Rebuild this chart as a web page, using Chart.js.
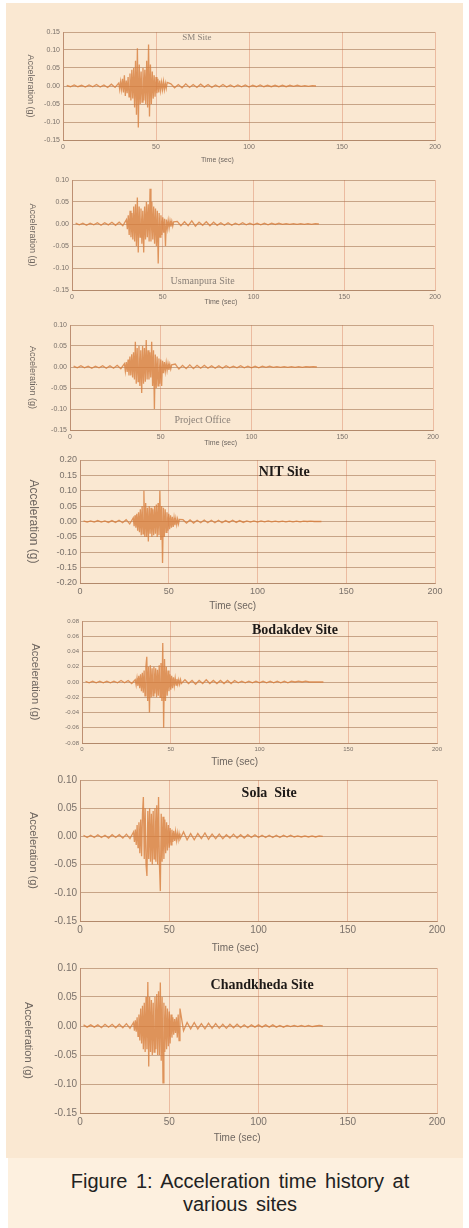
<!DOCTYPE html>
<html><head><meta charset="utf-8">
<script src="https://cdn.jsdelivr.net/npm/chart.js@4"></script>
<style>
html,body{margin:0;padding:0;background:#fff;}
body{width:469px;height:1228px;position:relative;overflow:hidden;}
#bg{position:absolute;left:6px;top:3px;width:457px;height:1155px;background:#FAE8D2;}
#capbg{position:absolute;left:8px;top:1158px;width:455px;height:70px;background:#FDF0DF;}
#cap{position:absolute;left:10px;width:460px;top:1170px;text-align:center;font-family:"Liberation Sans",Arial,sans-serif;font-size:20px;line-height:23px;color:#222;word-spacing:3px;}
canvas{position:absolute;left:0;}
</style></head><body>
<div id="bg"></div><div id="capbg"></div>
<div id="cap">Figure 1: Acceleration time history at<br>various sites</div>
<canvas id="c1"></canvas><canvas id="c2"></canvas><canvas id="c3"></canvas><canvas id="c4"></canvas>
<canvas id="c5"></canvas><canvas id="c6"></canvas><canvas id="c7"></canvas>
<script>
// ---------- DATA ----------
const times = [2,4,6,8,10,12,14,16,18,20,22,24,26,28,
30,30.5,31,31.5,32,32.5,33,33.5,34,34.5,35,35.5,36,36.5,37,37.5,38,38.5,39,39.5,
40,40.5,41,41.5,42,42.5,43,43.5,44,44.5,45,45.5,46,46.5,47,47.5,48,48.5,49,49.5,
50,50.5,51,51.5,52,52.5,53,53.5,54,54.5,55,55.5,56,
58,60,62,64,66,68,70,72,74,76,78,80,82,84,86,88,90,92,94,96,98,100,102,104,106,108,110,112,114,116,118,120,122,124,126,128,130,132,134,136];

const siteNames = ["SM Site","Usmanpura Site","Project Office","NIT Site","Bodakdev Site","Sola  Site","Chandkheda Site"];
const xTitle = "Time (sec)";
const yTitle = "Acceleration (g)";
const xTicks = [0,50,100,150,200];
const yTicksA = [0.15,0.10,0.05,0,-0.05,-0.10,-0.15];
const yTicksB = [0.10,0.05,0,-0.05,-0.10,-0.15];
const yTicksNIT = [0.20,0.15,0.10,0.05,0,-0.05,-0.10,-0.15,-0.20];
const yTicksBod = [0.08,0.06,0.04,0.02,0,-0.02,-0.04,-0.06,-0.08];

const smAcc = [0.002,-0.002,0.003,-0.002,0.002,-0.003,0.003,-0.002,0.004,-0.003,0.003,-0.004,0.005,-0.004,
0.008,-0.01,0.012,-0.009,0.02,-0.018,0.03,-0.028,0.015,-0.02,
0.025,-0.03,0.035,-0.04,0.045,-0.035,0.05,-0.06,0.07,-0.08,
0.105,-0.115,0.06,-0.05,0.04,-0.045,0.05,-0.04,0.045,-0.05,
0.07,-0.06,0.115,-0.085,0.06,-0.05,0.04,-0.035,0.03,-0.03,
0.025,-0.02,0.02,-0.018,0.015,-0.012,0.01,-0.01,0.012,-0.01,
0.008,-0.007,0.01,
0.006,-0.005,0.004,-0.005,0.006,-0.004,0.004,-0.004,0.005,-0.003,
0.004,-0.004,0.003,-0.003,0.004,-0.003,0.003,-0.003,0.003,-0.002,
0.003,-0.003,0.002,-0.002,0.003,-0.002,0.002,-0.002,0.002,-0.002,
0.002,-0.002,0.002,-0.001,0.002,-0.001,0.001,-0.001,0.001,0];

const usmanpuraAcc = [0.002,-0.002,0.002,-0.003,0.002,-0.002,0.003,-0.003,0.003,-0.002,0.004,-0.003,0.004,-0.004,
0.01,-0.012,0.02,-0.025,0.03,-0.03,0.025,-0.035,0.04,-0.04,
0.045,-0.05,0.06,-0.065,0.04,-0.03,0.035,-0.045,0.03,-0.065,
0.04,-0.035,0.05,-0.03,0.045,-0.04,0.08,-0.04,0.05,-0.035,
0.04,-0.045,0.035,-0.05,0.03,-0.09,0.025,-0.03,0.02,-0.025,
0.015,-0.02,0.012,-0.05,0.01,-0.01,0.008,-0.009,0.007,-0.006,
0.006,-0.005,0.005,
0.006,-0.004,0.005,-0.004,0.007,-0.005,0.004,-0.003,0.005,-0.004,
0.004,-0.003,0.003,-0.003,0.003,-0.003,0.002,-0.002,0.003,-0.002,
0.002,-0.002,0.002,-0.002,0.002,-0.002,0.002,-0.001,0.002,-0.001,
0.001,-0.001,0.001,-0.001,0.001,-0.001,0.001,-0.001,0.001,0];

const projectAcc = [0.002,-0.002,0.003,-0.002,0.002,-0.003,0.002,-0.002,0.003,-0.003,0.003,-0.003,0.004,-0.004,
0.008,-0.01,0.012,-0.012,0.018,-0.02,0.025,-0.02,0.03,-0.025,
0.035,-0.03,0.06,-0.04,0.045,-0.035,0.05,-0.045,0.04,-0.062,
0.05,-0.04,0.045,-0.035,0.064,-0.03,0.04,-0.03,0.035,-0.025,
0.06,-0.045,0.04,-0.10,0.03,-0.05,0.025,-0.045,0.02,-0.04,
0.018,-0.045,0.015,-0.015,0.012,-0.01,0.01,-0.008,0.008,-0.007,
0.006,-0.005,0.005,
0.007,-0.005,0.004,-0.004,0.005,-0.004,0.004,-0.003,0.004,-0.003,
0.003,-0.003,0.003,-0.003,0.003,-0.002,0.002,-0.002,0.003,-0.002,
0.002,-0.002,0.002,-0.002,0.002,-0.001,0.002,-0.001,0.001,-0.001,
0.001,-0.001,0.001,-0.001,0.001,-0.001,0.001,0,0.001,0];

const nitAcc = [0.002,-0.002,0.002,-0.002,0.003,-0.002,0.002,-0.003,0.003,-0.003,0.004,-0.004,0.006,-0.008,
0.012,-0.015,0.02,-0.02,0.025,-0.03,0.03,-0.035,0.04,-0.045,
0.05,-0.04,0.10,-0.05,0.06,-0.05,0.045,-0.065,0.05,-0.04,
0.045,-0.05,0.04,-0.045,0.05,-0.04,0.055,-0.05,0.06,-0.045,
0.10,-0.06,0.05,-0.135,0.045,-0.05,0.04,-0.035,0.03,-0.03,
0.025,-0.025,0.02,-0.02,0.015,-0.018,0.012,-0.012,0.01,-0.01,
0.008,-0.008,0.007,
0.006,-0.005,0.005,-0.005,0.004,-0.004,0.005,-0.004,0.004,-0.004,
0.004,-0.004,0.003,-0.003,0.004,-0.003,0.003,-0.003,0.002,-0.002,
0.002,-0.002,0.002,-0.001,0.002,-0.001,0.001,-0.001,0.001,-0.001,
0.001,-0.001,0.001,-0.001,0.001,0,0.001,0,0,0];

const bodakdevAcc = [0.001,-0.001,0.001,-0.001,0.001,-0.001,0.001,-0.001,0.001,-0.001,0.002,-0.001,0.002,-0.002,
0.003,-0.004,0.005,-0.005,0.008,-0.008,0.01,-0.012,0.012,-0.014,
0.015,-0.018,0.02,0.033,-0.025,0.02,-0.04,0.022,-0.02,0.018,
-0.018,0.02,-0.015,0.018,-0.02,0.016,-0.018,0.022,-0.02,0.025,
-0.025,0.051,-0.06,0.03,-0.025,0.02,-0.018,0.015,-0.012,0.01,
-0.01,0.008,-0.008,0.006,-0.005,0.005,-0.004,0.004,-0.003,0.003,
-0.003,0.003,-0.002,
0.003,-0.002,0.002,-0.003,0.002,-0.002,0.003,-0.002,0.002,-0.002,
0.002,-0.002,0.002,-0.002,0.002,-0.001,0.001,-0.001,0.001,-0.001,
0.001,-0.001,0.001,-0.001,0.001,-0.001,0.001,-0.001,0.001,-0.001,
0.001,0,0.001,0,0.001,0,0,0,0,0];

const solaAcc = [0.002,-0.002,0.002,-0.002,0.003,-0.002,0.002,-0.003,0.003,-0.002,0.003,-0.003,0.004,-0.004,
0.008,-0.01,0.012,-0.015,0.02,-0.02,0.025,-0.03,0.03,-0.035,
0.04,0.07,-0.04,0.05,-0.05,-0.07,0.045,-0.04,0.05,-0.045,
0.04,-0.05,0.045,-0.04,0.05,-0.045,0.055,-0.05,0.07,-0.05,
-0.097,0.04,-0.045,0.035,-0.04,0.03,-0.03,0.025,-0.025,0.02,
-0.02,0.015,-0.015,0.012,-0.01,0.01,-0.008,0.008,-0.007,0.006,
-0.006,0.005,-0.005,
0.008,-0.006,0.005,-0.006,0.005,-0.004,0.006,-0.005,0.004,-0.004,
0.004,-0.004,0.003,-0.003,0.004,-0.003,0.003,-0.003,0.003,-0.002,
0.003,-0.002,0.002,-0.002,0.002,-0.002,0.002,-0.002,0.002,-0.001,
0.002,-0.001,0.001,-0.001,0.001,-0.001,0.001,-0.001,0.001,0];

const chandkhedaAcc = [0.002,-0.002,0.002,-0.002,0.002,-0.003,0.003,-0.002,0.003,-0.003,0.003,-0.003,0.004,-0.004,
0.006,-0.008,0.01,-0.01,0.015,-0.018,0.02,-0.025,0.03,-0.03,
0.035,-0.04,0.04,-0.045,0.05,-0.04,0.076,-0.07,0.05,-0.045,
0.045,-0.05,0.04,-0.045,0.05,-0.04,0.055,-0.05,0.06,-0.05,
0.075,-0.06,0.05,-0.098,0.04,-0.045,0.035,-0.04,0.03,-0.035,
0.025,-0.03,0.02,-0.02,0.015,-0.015,0.012,-0.012,0.015,-0.02,
0.02,-0.025,0.03,
-0.008,0.006,-0.005,0.006,-0.005,0.004,-0.005,0.005,-0.004,0.004,
-0.004,0.003,-0.004,0.003,-0.003,0.003,-0.003,0.002,-0.003,0.002,
-0.002,0.002,-0.002,0.002,-0.002,0.002,-0.002,0.001,-0.002,0.001,
-0.001,0.001,-0.001,0.001,-0.001,0.001,-0.001,0,0.001,0];

// label anchor positions (data coordinates: time, acceleration)
const labelAt = [[72,0.133],[72,-0.13],[73,-0.128],[115,0.16],[120,0.068],[106,0.077],[102,0.07]];
const xTitleAt = [83,82,83,86,86,87,88];

// ---------- LAYOUT / STYLE ----------
const SANS = '"Liberation Sans", Arial, sans-serif';
const SERIF = '"Liberation Serif", "Times New Roman", serif';
const panels = [
 {id:'c1', acc:smAcc, yt:yTicksA, T:32, B:140, L:63, R:435, Hx:28, tick:7, ylab:9, ydx:33, xdy:20, xtf:7, lab:{size:9,weight:'normal',color:'#8a8078'}},
 {id:'c2', acc:usmanpuraAcc, yt:yTicksB, T:180, B:290, L:72, R:435, Hx:20, tick:7, ylab:9, ydx:40, xdy:12, xtf:7, lab:{size:10,weight:'normal',color:'#8a8078'}},
 {id:'c3', acc:projectAcc, yt:yTicksB, T:325, B:430, L:70, R:433, Hx:20, tick:7, ylab:9, ydx:38, xdy:13, xtf:7, lab:{size:10,weight:'normal',color:'#8a8078'}},
 {id:'c4', acc:nitAcc, yt:yTicksNIT, T:460, B:583, L:80, R:435, Hx:30, tick:9, ylab:12, ydx:47, xdy:23, xtf:10, lab:{size:14,weight:'bold',color:'#1e1a18'}},
 {id:'c5', acc:bodakdevAcc, yt:yTicksBod, T:621, B:743, L:82, R:437, Hx:28, tick:6, ylab:11, ydx:47, xdy:19, xtf:10, lab:{size:14,weight:'bold',color:'#1e1a18'}},
 {id:'c6', acc:solaAcc, yt:yTicksB, T:780, B:921, L:80, R:437, Hx:35, tick:10, ylab:11, ydx:47, xdy:27, xtf:10, lab:{size:14,weight:'bold',color:'#1e1a18'}},
 {id:'c7', acc:chandkhedaAcc, yt:yTicksB, T:968, B:1113, L:80, R:437, Hx:35, tick:10, ylab:11, ydx:52, xdy:25, xtf:10, lab:{size:14,weight:'bold',color:'#1e1a18'}}
];

const textPlugin = {
  id:'panelText',
  afterDraw(chart, args, o){
    const ctx = chart.ctx, xs = chart.scales.x, ys = chart.scales.y, ca = chart.chartArea;
    ctx.save();
    ctx.fillStyle = o.labColor;
    ctx.font = o.labWeight + ' ' + o.labSize + 'px ' + SERIF;
    ctx.textAlign = 'center'; ctx.textBaseline = 'middle';
    ctx.fillText(o.label, xs.getPixelForValue(o.labelT), ys.getPixelForValue(o.labelV));
    ctx.fillStyle = '#6e6660';
    ctx.font = o.xtf + 'px ' + SANS;
    ctx.fillText(xTitle, xs.getPixelForValue(o.xT), ca.bottom + o.xdy);
    ctx.translate(ca.left - o.ydx, (ca.top + ca.bottom) / 2);
    ctx.rotate(Math.PI / 2);
    ctx.font = o.ylab + 'px ' + SANS;
    ctx.fillText(yTitle, 0, 0);
    ctx.restore();
  }
};

const fmt = v => (Math.abs(v) < 1e-9 ? '0.00' : v.toFixed(2));

panels.forEach((p, i) => {
  const cv = document.getElementById(p.id);
  const padTop = 10;
  cv.width = 469; cv.height = (p.B - p.T) + padTop + p.Hx;
  cv.style.top = (p.T - padTop) + 'px';
  const pts = times.map((t, k) => ({x: t, y: p.acc[k]}));
  new Chart(cv, {
    type: 'line',
    data: {datasets: [{data: pts, borderColor: 'rgba(215,125,60,0.8)', borderWidth: 1.3, pointRadius: 0, tension: 0, fill: false}]},
    options: {
      responsive: false, animation: false, events: [],
      layout: {padding: {top: padTop, right: 469 - p.R, bottom: 0, left: 0}},
      plugins: {
        legend: {display: false}, tooltip: {enabled: false},
        panelText: {label: siteNames[i], labelT: labelAt[i][0], labelV: labelAt[i][1], labSize: p.lab.size, labWeight: p.lab.weight, labColor: p.lab.color,
          xT: xTitleAt[i], xdy: p.xdy, xtf: p.xtf, ylab: p.ylab, ydx: p.ydx}
      },
      scales: {
        x: {type: 'linear', min: 0, max: 200,
          afterBuildTicks: a => { a.ticks = xTicks.map(v => ({value: v})); },
          afterFit: a => { a.height = p.Hx; },
          grid: {color: 'rgba(222,150,118,0.55)', lineWidth: 1, drawTicks: false},
          border: {color: 'rgba(170,125,95,0.7)'},
          ticks: {font: {size: p.tick, family: SANS}, color: '#7a716a', padding: 3, maxRotation: 0, autoSkip: false}
        },
        y: {type: 'linear', min: p.yt[p.yt.length - 1], max: p.yt[0],
          afterBuildTicks: a => { a.ticks = p.yt.map(v => ({value: v})); },
          afterFit: a => { a.width = p.L; },
          grid: {color: 'rgba(165,118,85,0.6)', lineWidth: 1, drawTicks: false},
          border: {color: 'rgba(170,125,95,0.7)'},
          ticks: {font: {size: p.tick, family: SANS}, color: '#7a716a', padding: 3, callback: v => fmt(v)}
        }
      }
    },
    plugins: [textPlugin]
  });
});
</script>
</body></html>
